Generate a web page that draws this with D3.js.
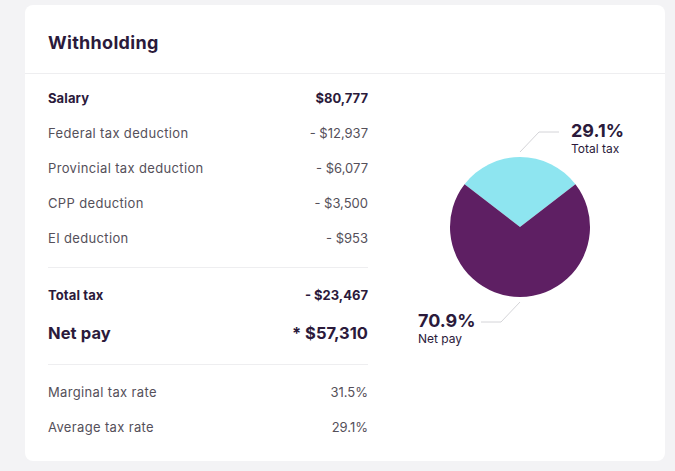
<!DOCTYPE html>
<html>
<head>
<meta charset="utf-8">
<script src="https://d3js.org/d3.v7.min.js"></script>
<style>
  body { margin: 0; background: #f3f3f5; }
  svg { display: block; font-family: "Inter", "Open Sans", sans-serif; }
</style>
</head>
<body>
<script>
const title = "Withholding";
const salary = 80777;
const deductionLabels = ["Federal tax deduction", "Provincial tax deduction", "CPP deduction", "EI deduction"];
const deductionValues = [12937, 6077, 3500, 953];
const totalTax = 23467;
const netPay = 57310;
const rateLabels = ["Marginal tax rate", "Average tax rate"];
const rateValues = [31.5, 29.1];
const pieLabels = ["Total tax", "Net pay"];
const pieValues = [29.1, 70.9];
const pieColours = ["#8ee5f0", "#5e1f63"];

const width = 675, height = 471;
const dark = "#2b1a3b", grey = "#55505a";
const money = d3.format(",.0f");

const svg = d3.select("body").append("svg")
  .attr("width", width)
  .attr("height", height);

// card
svg.append("rect")
  .attr("x", 25).attr("y", 5)
  .attr("width", 640).attr("height", 456)
  .attr("rx", 8)
  .attr("fill", "#fff");

svg.append("text")
  .attr("x", 48).attr("y", 49)
  .attr("fill", dark)
  .attr("font-size", 18).attr("font-weight", 700)
  .attr("letter-spacing", 0.3)
  .text(title);

svg.append("line")
  .attr("x1", 25).attr("x2", 665)
  .attr("y1", 73.5).attr("y2", 73.5)
  .attr("stroke", "#eeeef0");

// table rows
const rows = [];
rows.push({label: "Salary", value: "$" + money(salary), bold: true, size: 13, y: 103});
deductionLabels.forEach(function (l, i) {
  rows.push({label: l, value: "- $" + money(deductionValues[i]), bold: false, size: 13, y: 138 + i * 35});
});
rows.push({label: "Total tax", value: "- $" + money(totalTax), bold: true, size: 13, y: 300});
rows.push({label: "Net pay", value: "* $" + money(netPay), bold: true, size: 16.5, y: 339});
rateLabels.forEach(function (l, i) {
  rows.push({label: l, value: rateValues[i] + "%", bold: false, size: 13, y: 397 + i * 35});
});

const g = svg.selectAll("g.row")
  .data(rows)
  .enter()
  .append("g")
  .attr("class", "row");
g.append("text")
  .attr("x", 48)
  .attr("y", function (d) { return d.y; })
  .attr("font-size", function (d) { return d.size; })
  .attr("font-weight", function (d) { return d.bold ? 700 : 400; })
  .attr("letter-spacing", function (d) { return d.bold ? 0.1 : 0.35; })
  .attr("fill", function (d) { return d.bold ? dark : grey; })
  .text(function (d) { return d.label; });
g.append("text")
  .attr("x", 368)
  .attr("y", function (d) { return d.y; })
  .attr("text-anchor", "end")
  .attr("font-size", function (d) { return d.size; })
  .attr("font-weight", function (d) { return d.bold ? 700 : 400; })
  .attr("fill", function (d) { return d.bold ? dark : grey; })
  .text(function (d) { return d.value; });

[267.5, 364.5].forEach(function (y) {
  svg.append("line")
    .attr("x1", 48).attr("x2", 368)
    .attr("y1", y).attr("y2", y)
    .attr("stroke", "#eeeef0");
});

// pie
const cx = 520, cy = 227, r = 70;
const offset = pieValues[0] / 100 * Math.PI;
const pie = d3.pie().sort(null)
  .startAngle(-offset)
  .endAngle(2 * Math.PI - offset);
const arc = d3.arc().innerRadius(0).outerRadius(r);
const arcs = pie(pieValues);

const pg = svg.append("g").attr("transform", "translate(" + cx + "," + cy + ")");
pg.selectAll("path")
  .data(arcs)
  .enter()
  .append("path")
  .attr("d", arc)
  .attr("fill", function (d, i) { return pieColours[i]; });

// leader lines and labels
const outer = d3.arc().innerRadius(75).outerRadius(75);
arcs.forEach(function (d, i) {
  const p = outer.centroid(d);
  const side = i === 0 ? 1 : -1;
  const p2 = [p[0] + 19 * side, p[1] + 20 * -side];
  const p3 = [p2[0] + 20 * side, p2[1]];
  pg.append("polyline")
    .attr("points", [p, p2, p3].map(function (q) { return q.join(","); }).join(" "))
    .attr("fill", "none")
    .attr("stroke", "#d4d4d8");
  const tx = i === 0 ? p3[0] + 12 : p3[0] - 63;
  pg.append("text")
    .attr("x", tx).attr("y", p2[1] + 5)
    .attr("font-size", 18).attr("font-weight", 700)
    .attr("fill", dark)
    .text(pieValues[i] + "%");
  pg.append("text")
    .attr("x", tx).attr("y", p2[1] + 21)
    .attr("font-size", 12)
    .attr("fill", dark)
    .text(pieLabels[i]);
});
</script>
</body>
</html>
